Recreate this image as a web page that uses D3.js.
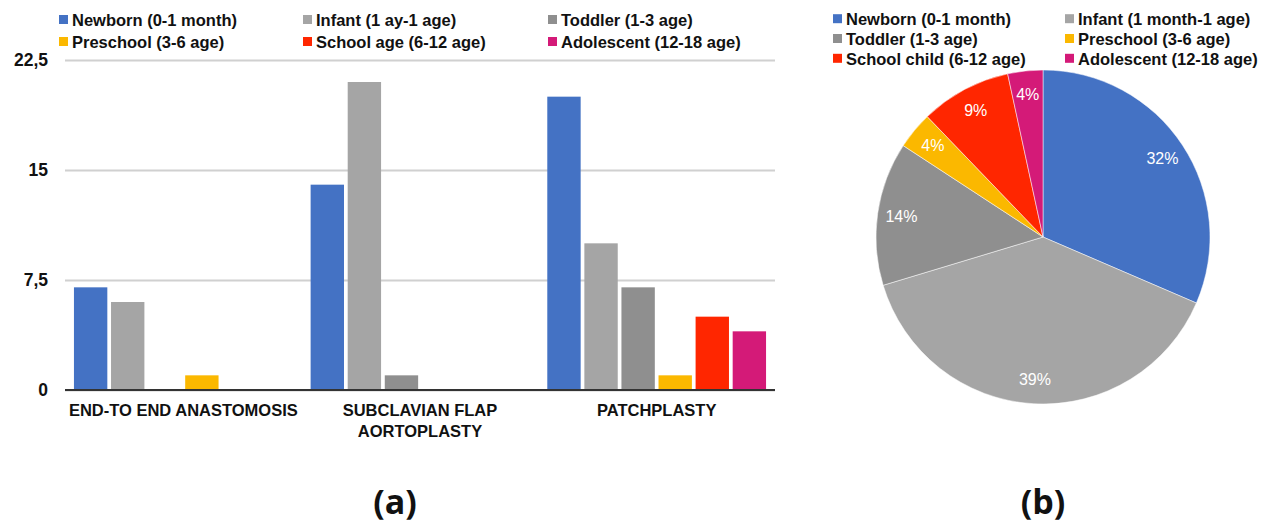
<!DOCTYPE html>
<html><head><meta charset="utf-8">
<script src="https://cdn.jsdelivr.net/npm/d3@7"></script>
<style>body{margin:0;background:#fff}svg{display:block}</style>
</head><body>
<svg id="chart" width="1271" height="525"></svg>
<script>
// ---- data ----
const categories = [["END-TO END ANASTOMOSIS"], ["SUBCLAVIAN FLAP", "AORTOPLASTY"], ["PATCHPLASTY"]];
const barSeries = ["Newborn (0-1 month)", "Infant (1 ay-1 age)", "Toddler (1-3 age)", "Preschool (3-6 age)", "School age (6-12 age)", "Adolescent (12-18 age)"];
const newbornVals = [7, 14, 20];
const infantVals = [6, 21, 10];
const toddlerVals = [0, 1, 7];
const preschoolVals = [1, 0, 1];
const schoolVals = [0, 0, 5];
const adolescentVals = [0, 0, 4];
const yTicks = [0, 7.5, 15, 22.5];
const yTickLabels = ["0", "7,5", "15", "22,5"];
const pieSeries = ["Newborn (0-1 month)", "Infant (1 month-1 age)", "Toddler (1-3 age)", "Preschool (3-6 age)", "School child (6-12 age)", "Adolescent (12-18 age)"];
const pieValues = [31.5, 38.9, 13.9, 3.6, 8.8, 3.4];
const pieLabels = ["32%", "39%", "14%", "4%", "9%", "4%"];
const colors = ["#4472C4", "#A5A5A5", "#8F8F8F", "#FBB800", "#FF2600", "#D41A78"];

(function () {
const svg = d3.select("#chart");
const FONT = "Liberation Sans, Arial, sans-serif";
const seriesVals = [newbornVals, infantVals, toddlerVals, preschoolVals, schoolVals, adolescentVals];

// ---- bar chart ----
const mLeft = 65, mRight = 775, mTop = 60, mBottom = 390;
const y = d3.scaleLinear().domain([0, 22.5]).range([mBottom, mTop]);
const x0 = d3.scaleBand().domain(d3.range(categories.length)).range([mLeft, mRight]).paddingInner(0.06).paddingOuter(0.03);
const x1 = d3.scaleBand().domain(d3.range(barSeries.length)).range([0, x0.bandwidth()]).paddingInner(0.1).paddingOuter(0.05);

const yAxis = d3.axisLeft(y).tickValues(yTicks).tickFormat((d, i) => yTickLabels[i]).tickSize(-(mRight - mLeft)).tickPadding(17);
const gy = svg.append("g").attr("transform", `translate(${mLeft},0)`).call(yAxis);
gy.select(".domain").remove();
gy.selectAll(".tick line").attr("stroke", "#d0d0d0").attr("stroke-width", 2);
gy.selectAll(".tick text").attr("font-family", FONT).attr("font-weight", "bold").attr("font-size", 17.5).attr("fill", "#111");

const groups = svg.append("g").selectAll("g").data(categories).join("g")
  .attr("transform", (d, i) => `translate(${x0(i)},0)`);
groups.selectAll("rect").data((d, i) => seriesVals.map((s, k) => ({k, v: s[i]}))).join("rect")
  .attr("x", d => x1(d.k)).attr("width", x1.bandwidth())
  .attr("y", d => y(d.v)).attr("height", d => y(0) - y(d.v))
  .attr("fill", d => colors[d.k]);

svg.append("line").attr("x1", mLeft).attr("x2", mRight).attr("y1", y(0)).attr("y2", y(0))
  .attr("stroke", "#333").attr("stroke-width", 2);

const xl = svg.append("g");
categories.forEach((lines, i) => {
  const t = xl.append("text").attr("x", x0(i) + x0.bandwidth() / 2).attr("y", 416)
    .attr("text-anchor", "middle").attr("font-family", FONT).attr("font-weight", "bold").attr("font-size", 16.5).attr("fill", "#111");
  lines.forEach((l, j) => t.append("tspan").attr("x", x0(i) + x0.bandwidth() / 2).attr("dy", j ? 21 : 0).text(l));
});

// bar legend
const legA = svg.append("g");
const legAx = [59, 303, 548];
barSeries.forEach((s, i) => {
  const col = i % 3, row = Math.floor(i / 3);
  const lx = legAx[col], ly = 20 + row * 22;
  legA.append("rect").attr("x", lx).attr("y", ly - 5).attr("width", 9).attr("height", 9).attr("fill", colors[i]);
  legA.append("text").attr("x", lx + 13).attr("y", ly).attr("dy", "0.35em")
    .attr("font-family", FONT).attr("font-weight", "bold").attr("font-size", 16.5).attr("fill", "#111").text(s);
});

// ---- pie chart ----
const cx = 1043, cy = 237, R = 167;
const pie = d3.pie().sort(null).value(d => d);
const arcs = pie(pieValues);
const arc = d3.arc().innerRadius(0).outerRadius(R);
const labelArc = d3.arc().innerRadius(143).outerRadius(143);
const gp = svg.append("g").attr("transform", `translate(${cx},${cy})`);
gp.selectAll("path").data(arcs).join("path").attr("d", arc).attr("fill", (d, i) => colors[i])
  .attr("stroke", "#fff").attr("stroke-width", 0.5);
gp.selectAll("text").data(arcs).join("text")
  .attr("transform", d => `translate(${labelArc.centroid(d)})`)
  .attr("text-anchor", "middle").attr("dy", "0.35em")
  .attr("font-family", FONT).attr("font-size", 16).attr("fill", "#fff")
  .text((d, i) => pieLabels[i]);

const legB = svg.append("g");
pieSeries.forEach((s, i) => {
  const col = i % 2, row = Math.floor(i / 2);
  const lx = 833 + col * 232, ly = 19.2 + row * 19.8;
  legB.append("rect").attr("x", lx).attr("y", ly - 5).attr("width", 9).attr("height", 9).attr("fill", colors[i]);
  legB.append("text").attr("x", lx + 13).attr("y", ly).attr("dy", "0.35em")
    .attr("font-family", FONT).attr("font-weight", "bold").attr("font-size", 16.5).attr("fill", "#111").text(s);
});

// captions
svg.append("text").attr("x", 395).attr("y", 514).attr("text-anchor", "middle")
  .attr("font-family", "Open Sans, sans-serif").attr("font-weight", "bold").attr("font-size", 34).attr("fill", "#111").text("(a)");
svg.append("text").attr("x", 1043).attr("y", 514).attr("text-anchor", "middle")
  .attr("font-family", "Open Sans, sans-serif").attr("font-weight", "bold").attr("font-size", 34).attr("fill", "#111").text("(b)");
})();
</script>
</body></html>
